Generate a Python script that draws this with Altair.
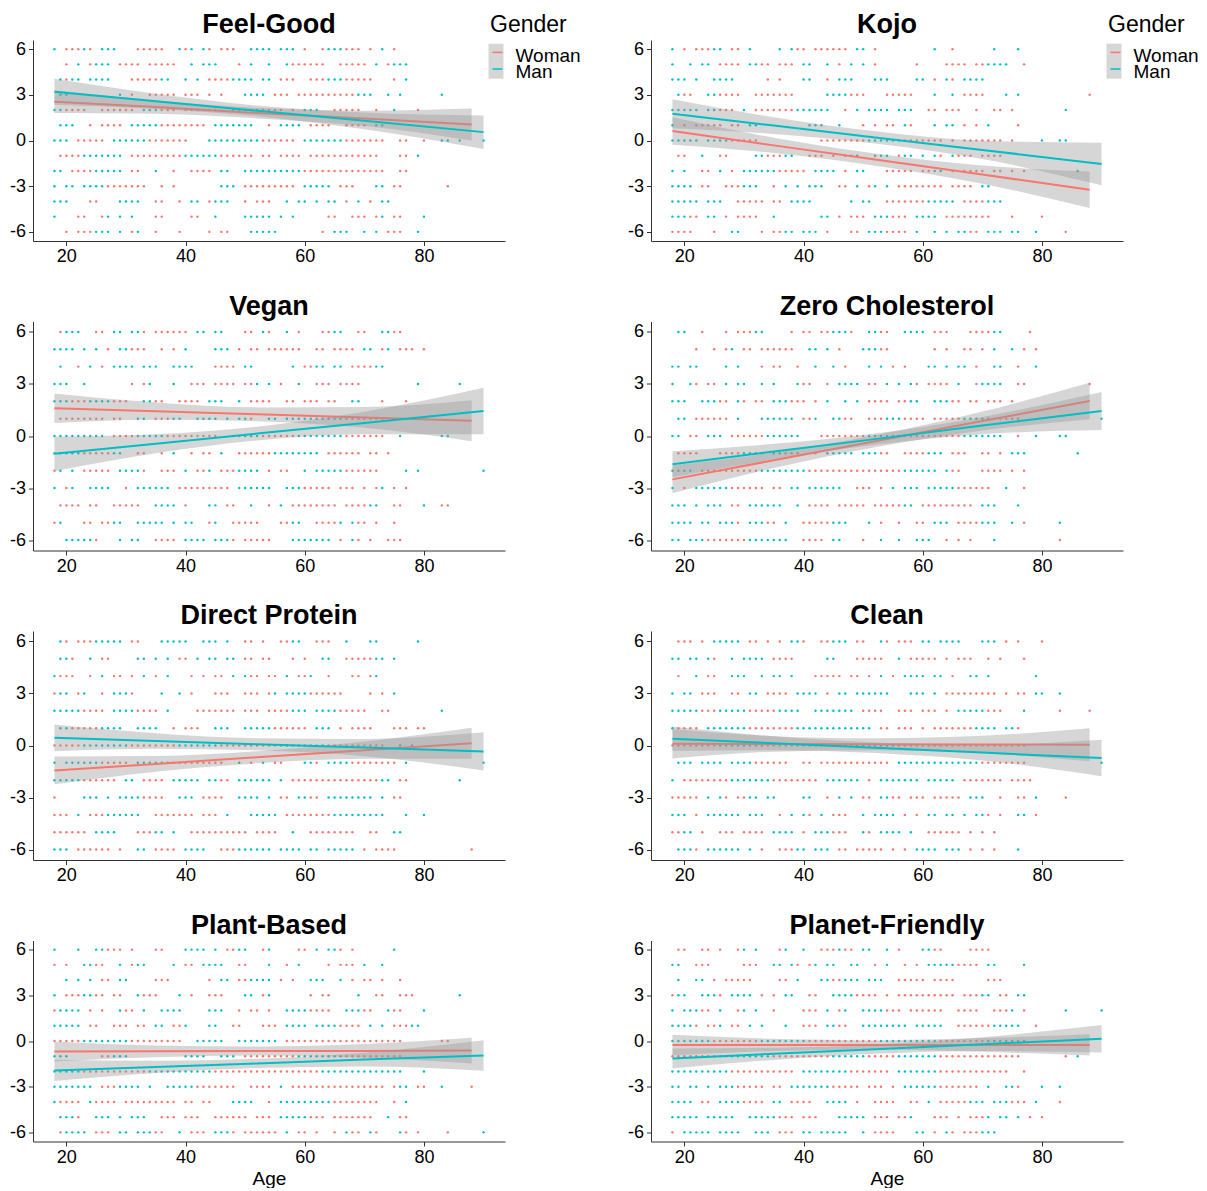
import altair as alt
import pandas as pd

FONT = "Liberation Sans"
COLORS = {"Woman": "#F8766D", "Man": "#00BFC4"}

TITLES = ["Feel-Good", "Kojo", "Vegan", "Zero Cholesterol",
          "Direct Protein", "Clean", "Plant-Based", "Planet-Friendly"]
LEVELS = [6, 5, 4, 3, 2, 1, 0, -1, -2, -3, -4, -5, -6]
X_TICKS = [20, 40, 60, 80]
Y_TICKS = [-6, -3, 0, 3, 6]

# Respondents per answer level (rows: 6 .. -6); "a-bG" = ages a..b, gender w/m
FEEL_GOOD = [
    "18m 20-22w 23m 24w 26-28m 32-36w 39m 40w 41m 43m 44w 46-48w 51-54m 56-58m 60w 63w 64-66m 67-69w 71w 73m 75w",
    "20w 22m 24w 25-27m 29-32w 34-38w 41m 43-45m 49w 51m 54m 57m 58-63w 66-70w 72m 74w 75-77m",
    "19m 20w 21-22m 24-27m 31-35w 36-37m 40m 42m 44-47w 48-51m 53-54m 56-58w 61-63w 64-66m 67-71w 75w 77m",
    "19-20m 29m 31w 34-38w 40-42w 44w 46w 50-53m 55-57w 59-62w 63-68w 69-71m 74m 76m 83m",
    "18-19m 20-23w 26-31w 33-35m 36-38w 40-45w 48-52m 53-56w 58w 60-62m 65-69w 72w 75m 79w",
    "19-21m 24w 26-29w 31-35m 36-43w 45-51m 54w 56-59m 61-64w 67-70w 72-73m",
    "18-20m 22-26w 28-33m 34-40w 44-52m 53-58w 60-66m 67-73w 76-77w 80w 83-84m 86m 90m",
    "19-22w 23-29m 31-39w 40-45m 46-51w 53-54w 56-59w 61-72w 76-77w 79m",
    "18-19m 21-24w 25-29m 31-32w 35m 38w 41-44w 46-47m 50-53m 54-59m 60-66w 67-73w 76-77w",
    "18m 20-21m 23-26m 27-33w 36w 38w 46-48m 50-58w 60-64m 66-68w 72-73m 75-76w 84w",
    "18-20m 24-25w 29-32m 35-36w 39w 41-42m 44w 45-47m 50w 52-54w 57m 59-60m 62m 64-65m 67w 69m 71w 73-74m",
    "18m 22-23w 26w 27m 29m 31m 35-36w 41-42w 45m 50-54m 56m 58m 64-65w 68-70w 72w 73m 75-76w 80m",
    "20w 22-24w 25-27m 29m 31w 32m 35w 39w 44w 46-47w 51-55m 63w 65m 66-67m 70m 72m 74-76w 79m",
]
KOJO = [
    "18m 20w 22-24w 25-26m 28-29w 31m 36m 38m 39-40w 42-47w 49-50m 52w 62m 65w 72m 76m",
    "18m 21m 23-24m 26-29w 31-32m 33-34w 36-38w 40-41m 44m 46w 48m 50m 52w 59w 64-67w 69-70w 71-74m 77w",
    "18-20m 22m 25-28m 34w 36w 40-41m 44w 46-48m 52-54m 59-60m 62w 64m 65w 67-70m",
    "19m 20-21w 24-25m 26-29w 32-38w 44-47m 48-50w 54-58w 62m 65m 67-70w 74m 76m 88w",
    "18-22m 24-25m 26-28w 30m 32-38w 39-44m 47w 49m 51-54m 56-58m 61-62w 64-66w 69w 72-73w 75w 84m",
    "18m 20w 22-26w 28-29w 31-32m 41-43m 46m 50w 52w 54-55w 57m 58w 62m 64-65m 67w 69w 71m 76w",
    "18-22m 24-27m 28-32w 43-50w 51-56m 57-63w 65w 67-73w 75w 80m 83-84m",
    "19-20w 23m 26-27w 32-33m 34-36w 37-38m 41-43w 45w 47-48w 49m 52-54m 56w 57-58m 60m 62m 63w 65m 66-68w 70-73w",
    "18m 20m 23-24w 26m 28w 30-35m 36-40w 42-45m 47w 49-50m 54-58w 60-61w 62-63m 65w 67-70w 72-73w 75w 77w 86m",
    "18-21m 23-24w 27-29w 30-32m 35w 37m 39m 41-43m 46-47w 49m 51w 52m 54m 56-63w 65-68w 70-71m",
    "18-22m 24-26m 29-33w 35-36w 38-41m 48m 50-51m 54-60w 61-65m 67-70w 71-73m",
    "18-20m 21-22w 24-25m 27w 29-32w 35m 43-44m 46w 48-50w 52-54m 55-57w 59-62m 64-71w 75w 80w",
    "18-21w 25w 28-29m 33w 35-36w 37-38m 40-42m 44w 48-49w 51-53m 54-57w 59m 62m 64m 66-67m 68-69w 71-73m 75-76m 79m 84w",
]
VEGAN = [
    "19w 20-22m 25-26w 28-29m 31-32m 33w 35-40w 42-43m 45-46m 50-51w 53m 54w 57m 59w 63-64w 65-66m 69-70w 73-74m 75-76w",
    "18-21m 23m 25m 27w 29-30m 31-33w 36w 38w 40m 45-47m 49w 51-52w 54-59w 62-63w 65-68w 70-71m 73w 74m 76-78w 80w",
    "19m 22w 24m 26w 28-31m 33-35m 38-41m 45-48w 50-51m 58m 60-61w 62-63m 65-66m 68-71w 72-73m",
    "18-20m 23m 31w 33w 34m 38m 41-43w 45-48w 50-51w 52m 54m 56w 59m 62-64w 66-69w 79m 86m",
    "18-20m 21-23w 24-27m 28-30w 33-34m 35-36w 39-42w 44-46m 49m 51-54w 57-58w 60-62w 64-65w 68-69m 73w 77w",
    "19-22w 23-26w 28-29w 32-33m 35-37w 38-39m 42-45m 47m 49-50m 51w 54-55m 57-60m 61-66m 67-73w",
    "18-26m 28-31w 32-36m 37-45w 48-52m 53-58w 59-66m 67-73w 76m 83-84m",
    "18-22m 23-27w 28-29m 32-33w 36w 38m 41w 43-44w 46m 49-54w 55-62m 64-69w 71-72w 74w",
    "18w 19m 21m 23-27w 29-32m 33w 36-38w 40m 42-43w 44m 46-48w 49-52m 54w 56-57w 60m 62-66m 67-72w 77m 79m 90m",
    "18m 20w 21m 24-27m 30w 32-37m 39-47w 49-54m 57-59m 60-64w 66-68w 70w 72w 73m 75w 77w",
    "19-22w 24-25w 28-32w 35-38m 40w 44-45m 47-48w 51m 54w 56m 58-65w 67-70w 71-72m 75-76w 80m 83-84w",
    "18w 19m 23-24w 26-27w 28-29m 32-36m 38m 40-41m 44w 45m 48-52w 56-57w 58-59m 62-65w 66m 68m 69-70w 72w 75w",
    "20-24m 25w 29m 31-32m 35-38w 40-43m 45-47m 48w 50-54w 58-64m 66w 68m 69w 71w 74-76w",
]
ZERO_CHOLESTEROL = [
    "19-20m 23w 27w 29-31w 32-33m 38w 40-41w 43-44w 45-47m 48w 51-52m 53-54w 57-60m 62-64w 68-71w 72-73m 78w",
    "22w 25w 27w 28m 30-31w 33-38w 41-42m 44m 46w 50-52m 53-54w 62w 64w 67-68w 70w 72m 75m 77w 79w",
    "18-19m 21-22m 27m 29m 33w 35-36w 39w 42m 45m 47w 51m 53m 55w 57w 61-62m 64m 66-67m 69w 72-73m 76w 79m",
    "18m 21m 22w 24-25w 27m 29-30m 33m 35m 39m 40-41w 44w 46-49m 51-52w 54m 56m 58m 59w 61-64w 66m 69w 70-73m 76-77w 88w",
    "18-20m 23-25m 26-27w 29m 30w 32-33w 35-37m 38-40w 42w 44m 47m 49m 51-54w 56-57w 58-59m 62-64m 65-66w 68-69w 71-73w 75w",
    "19-20m 22-27w 29m 33-38m 40-41w 42m 45-46m 47-48w 51-53w 54-56m 57-60w 62-66w 67-71m 72-76w 90m",
    "18-19m 21-22w 24-26m 28-33w 34-39m 43-50w 51-56m 57-66w 67-73m 76w 79m 83-84m",
    "19-22w 26-29w 30-33m 35-36m 37-39w 42w 44-48m 50-52m 53-54w 57-60w 61-63m 65-67w 70-71w 73w 75-77m 86m",
    "18-21m 23-26w 27-32w 33-40m 41-49w 50-56w 57-62m 64m 65-66w 70-73w 75w 77w",
    "18m 20w 22-27m 28-33w 35-36w 38-39m 41-46m 49-51w 53w 55m 57-59m 61-65m 66-71w 74m 77w",
    "18-20m 22m 24-26m 28-29w 31-36m 39m 41-44w 46-50w 52-56w 57-58m 60-68w 70-72m 76m",
    "18-21m 23-24m 26-28m 29w 31-33m 34-35w 37m 40-44w 45-47m 51m 53w 56w 59-60w 62-64m 66-69w 70-72m 75m 77w 83m",
    "18-19m 21-23m 24-30w 31-37m 40-43w 45-46m 50w 53m 56m 59-61m 64w 66w 68w 72m 83w",
]
DIRECT_PROTEIN = [
    "19m 20w 22-24w 25-29m 31-32w 36-40m 43-45m 47m 50-51w 53w 56-57w 58-59m 62-64w 67m 71-72m 79m",
    "19-20m 21w 24m 26-27w 32-33m 35m 37m 39-40w 42m 44-45m 47-48m 50-51w 53-54w 58w 60w 63-64m 67-71w 72-73m 75m",
    "18m 19-21w 24w 26m 28-29w 31w 33m 35w 37m 41w 43w 45-46w 48m 50m 51-52w 54-55w 57m 59-60w 61m 64w 68-69w 71w 72m",
    "18w 19-20m 22w 23m 26w 28-30m 31w 36m 39m 41w 45-47w 50-52w 54w 55m 57-60m 61-66w 71w 73w 75m",
    "18-22m 23-26w 28-31m 32-35w 37m 42-48w 50-52w 54-57w 58-60m 62-65m 66-70w 73-74w 83m",
    "19-20m 21-25w 26-29m 32-35m 38w 40-42w 45-47m 50-54m 55-60w 62-64m 66w 68-71w 75-77w 79-80w",
    "18-22w 23-30m 31-38w 39-45m 46-55w 56-63m 64-73w 76m 78m",
    "18m 20-25m 26-30w 32-37m 38-46w 49m 51w 53m 55-56w 60-61m 62w 64-67m 68-75w 77m 90m",
    "18-22m 23-28w 30-31m 33-36w 38-42m 44-45m 46-47w 49-54m 56m 58-66w 67-72w 73-74m 76-77w 86m",
    "18w 23-25m 27m 29-32m 33-36w 39-41m 43-46w 49-52m 54m 56-57w 59-60m 61-62w 64-71m 73m 75-76w",
    "18-20w 22m 24-26w 27-32m 35-41w 43-45w 47m 51-55m 57-64w 65-73m 77m 80m",
    "18-23w 25-28m 32-34w 35-36m 38m 41-50w 52-55w 58m 61-68w 71-72w 75-76m",
    "18-20m 22-27w 29w 32-33m 35-38w 40-43m 46-48w 49-54m 56-59m 61-62m 64-68m 70w 72-75w 88w",
]
CLEAN = [
    "19-21w 23w 25-29m 31-32w 34w 36w 38-39m 40w 43-44w 45-47m 49-50w 53m 54w 56-58w 60-61m 63-66m 70-72m 74w 76w 80w",
    "18-19m 21-22m 24m 25w 28m 30-33m 35-38w 44-45m 49-53w 56m 58-62w 64w 66-68w 71w 73w 77w",
    "19w 22m 24-25w 28-30m 33m 35-36m 38m 42-46w 48-49w 51w 53m 55w 57-60m 62-63m 65w 68-69m 71m 79m",
    "18m 20-21m 23-25w 28-29w 31-32m 34-37w 39-42m 44w 46-47m 49-54m 58-60m 62m 64-72w 74w 76-77w 79-80m 83m",
    "18-22m 23-25w 26-30m 31-35w 36-39m 42-48m 50-53w 56-58w 60-62w 64w 66-70m 71-73w 77m 83w 88w",
    "18m 19-21w 22w 24-30m 31-38w 39-46m 47-51m 53-54w 56-58w 60w 62-68w 69-72m 74-75m 76w",
    "18-25w 26-33m 34-45w 46-55m 56-66w 67-77w",
    "19-21m 23-26m 28-31m 32-37w 40-41w 43-54w 56-62m 63-69m 70-77w 90m",
    "18m 20-27w 28-34m 35-42w 44-49m 51w 53-59m 61-65m 67-73w 75-78w",
    "18-22w 24m 26m 27w 29-30w 31-32m 34-35m 40-41m 44w 46m 48m 50-51w 53-54m 55-56w 58-60w 62-66w 68-70m 73w 76-77w 79m 84w",
    "18-20m 22w 24-29m 31-33m 36w 38m 40m 41w 43m 45-47w 50m 52-55m 57w 59w 61-62m 64-65m 67m 69-70m 71w 73w 76-77m 79w",
    "18-19w 20-21m 23w 26-28w 30-33w 35-38m 40w 42-44m 45-47w 50m 51w 53-56m 58m 61-66w 68w 70w 72w",
    "19-21m 22w 24-29m 31m 33w 36-38w 39-40m 42-44m 46-47w 49-53w 55w 57w 59-62m 64-66m 68w 70w 72w 76m",
]
PLANT_BASED = [
    "18m 22m 25-26m 27-29w 31w 35-36w 40-43m 45m 47-48w 49-50m 53w 54m 59-60w 62m 64-65m 66w 68w 75m",
    "18w 20w 23-24m 25-26w 29m 31w 32-33m 38m 40-41w 43-46m 49-50w 54m 57w 59m 64w 66-68w 70m 73m",
    "20m 22m 24m 26-27w 29-30m 35-37w 44w 46-47m 49-50w 51-54m 56w 58w 61-63m 66m 68w 70-71w 73w 76w",
    "18m 20-22w 23-24m 25-26w 28-29w 32m 33-35w 39m 41w 44-46w 50-51m 53w 54m 61w 63-64w 69m 72-73w 76-78w 86m",
    "18w 19-22m 24w 26w 29m 30-31w 33m 36-39m 44-46m 49w 51-52w 54w 57-60m 61-64w 67-69m 70-71w 74m 75-76w 80m",
    "18-22m 24-25w 28-30w 32-33w 35-36m 38-39w 40m 44-45m 48-49w 53-55w 57-60m 62-65m 66-69w 71m 73m 75-77w 78m 79m",
    "18-22w 23-30m 31-39w 42-46m 49-55m 57-66w 67-76w 83-84w",
    "18-20m 26-27w 28-30m 40-43m 46-48m 50-58w 59-66m 67-76w",
    "18-22m 23-33w 34-44m 45-51w 52-62w 63-70m 71-76m 80m",
    "18-22m 23-24m 26-28w 29-32m 34m 37-41m 42-48w 51-54w 56m 58-66w 67-73w 75w 76-77m 79-80w 83m 88w",
    "18m 19-22w 24m 25-28w 30-38w 40-41w 43-44w 48-51m 54w 56-64m 65-72w 75w 77m",
    "19-21m 22w 25-27m 29m 31-33m 36-38w 40-42w 45-50w 52-54w 56-60m 61-63w 65-71w 74m 76-77w",
    "19w 20-23m 25-27w 29-30m 32-34m 35-36w 39m 41-43w 45-47m 48w 50-55w 57m 59-60w 62w 65w 67m 68-69w 71m 72w 76m 77w 79w 84w 90m",
]
PLANET_FRIENDLY = [
    "19-20w 23-24w 26w 29w 30m 32m 36w 37m 40m 43-45w 46m 47-48w 50-51m 54m 56w 60-61m 62-63w 68-71w",
    "18-19m 22-24w 30-32w 35-36m 38m 39w 41w 42m 44-45m 48-49m 52w 54m 57w 59w 61-65m 66-69w 71-72m 77m",
    "19m 22-23m 25w 27-31w 36-37w 39m 43-44m 45-46w 47-49m 51-53m 56-60w 62-65w 71-73w",
    "18w 19-20m 23-25m 26w 28-31m 33w 35w 37-38m 41-42w 45-48m 49-52w 54w 56-65w 67-69w 70-71m 73-74w 76-77m",
    "18m 20-22m 23-24w 26m 29w 30m 32m 35w 40-42w 44m 46w 47m 50-53m 54-56w 58-63w 66-69w 72-74w 75m 77w 84m 90m",
    "18-21m 22w 24-25w 26m 28-29w 31m 33m 37m 40-42w 44-45m 46-47w 50-57m 59-63m 66-71w 72-76m 79w",
    "18-24m 25-32w 33-40m 41-52w 53-62m 63-70w 71-77m",
    "18-25w 26-34m 35-44w 45-50m 51-55w 56-62m 63-70w 71-76w 84w 86m",
    "18-22m 23-27m 28-38w 40-47m 48-54w 56-62m 63-74w 77w",
    "18-19m 21-22m 24m 26-28m 29-33w 35-36w 38-44m 45-49w 51-53w 55w 57-62m 63-69w 71m 74-75m 76w 80m 83m",
    "18-21m 23-24w 26-29m 30-33w 35-36m 38-41w 44-47m 49w 52-55w 58-59w 61m 63-67w 68-70m 72-74m 75-77w 79m 83w",
    "18-22m 24-28m 31-35m 36-38w 40-42w 46-50m 52-54w 56-57w 58m 62-64w 66w 68-70w 71m 73-74m 76m 78w 80w",
    "18w 20-24m 26-29m 32-34m 36-38w 40-41m 43-47m 50m 52-55w 59-60m 62w 64m 65w 67-69w 70-72m",
]
ROWS = {
    "Feel-Good": FEEL_GOOD, "Kojo": KOJO, "Vegan": VEGAN,
    "Zero Cholesterol": ZERO_CHOLESTEROL, "Direct Protein": DIRECT_PROTEIN,
    "Clean": CLEAN, "Plant-Based": PLANT_BASED, "Planet-Friendly": PLANET_FRIENDLY,
}

# Linear fits (value, CI half-width) read at these ages
FIT_AGES = {"Woman": [18, 35, 52, 70, 88], "Man": [18, 35, 52, 70, 90]}
FITS = {
    "Feel-Good": {"Woman": ([2.55, 2.2, 1.8, 1.45, 1.05], [0.75, 0.45, 0.35, 0.5, 1.05]),
                  "Man": ([3.2, 2.57, 1.95, 1.29, 0.55], [0.85, 0.5, 0.35, 0.55, 1.1])},
    "Kojo": {"Woman": ([0.62, -0.32, -1.25, -2.24, -3.23], [0.9, 0.5, 0.4, 0.6, 1.2]),
             "Man": ([1.76, 0.98, 0.2, -0.62, -1.54], [0.95, 0.55, 0.4, 0.6, 1.4])},
    "Vegan": {"Woman": ([1.6, 1.43, 1.25, 1.07, 0.88], [0.85, 0.5, 0.4, 0.6, 1.18]),
              "Man": ([-1.03, -0.45, 0.14, 0.75, 1.44], [1.0, 0.55, 0.4, 0.65, 1.34])},
    "Zero Cholesterol": {"Woman": ([-2.5, -1.4, -0.3, 0.86, 2.02], [0.8, 0.45, 0.35, 0.55, 1.05]),
                         "Man": ([-1.63, -0.9, -0.18, 0.6, 1.44], [0.75, 0.45, 0.33, 0.5, 1.1])},
    "Direct Protein": {"Woman": ([-1.44, -1.06, -0.68, -0.27, 0.13], [0.8, 0.45, 0.35, 0.5, 0.9]),
                       "Man": ([0.44, 0.26, 0.07, -0.12, -0.34], [0.77, 0.45, 0.35, 0.5, 1.1])},
    "Clean": {"Woman": ([0.1, 0.09, 0.07, 0.06, 0.04], [0.85, 0.45, 0.35, 0.5, 0.95]),
              "Man": ([0.39, 0.13, -0.13, -0.41, -0.72], [0.7, 0.4, 0.3, 0.45, 1.05])},
    "Plant-Based": {"Woman": ([-0.69, -0.68, -0.66, -0.65, -0.63], [0.65, 0.38, 0.3, 0.45, 0.85]),
                    "Man": ([-1.93, -1.7, -1.47, -1.22, -0.95], [0.7, 0.4, 0.3, 0.45, 1.0])},
    "Planet-Friendly": {"Woman": ([-0.26, -0.26, -0.26, -0.26, -0.26], [0.67, 0.4, 0.3, 0.45, 0.7]),
                        "Man": ([-1.15, -0.84, -0.54, -0.21, 0.15], [0.65, 0.4, 0.3, 0.45, 0.9])},
}

GENDER_CODE = {"w": "Woman", "m": "Man"}
PANEL_W = 472
HEIGHTS = [201, 201, 229, 229, 229, 229, 201, 201]


def parse_rows(rows):
    recs = []
    for level, row in zip(LEVELS, rows):
        for tok in row.split():
            g = GENDER_CODE[tok[-1]]
            span = tok[:-1]
            if "-" in span:
                a, b = (int(v) for v in span.split("-"))
            else:
                a = b = int(span)
            for age in range(a, b + 1):
                recs.append({"age": age, "score": level, "gender": g})
    return pd.DataFrame(recs)


X_SCALE = alt.Scale(domain=[14.4, 93.6], nice=False, zero=False)
Y_SCALE = alt.Scale(domain=[-6.6, 6.6], nice=False, zero=False)


def xenc(show_title):
    return alt.X("age:Q", scale=X_SCALE,
                 axis=alt.Axis(values=X_TICKS, title="Age" if show_title else None))


def yenc(field):
    return alt.Y(field + ":Q", scale=Y_SCALE,
                 axis=alt.Axis(values=Y_TICKS, labelExpr="'' + datum.value", title=None))


ONE = pd.DataFrame({"k": [0]})


def title_layer(title):
    return alt.Chart(ONE).mark_text(align="center", baseline="alphabetic", fontSize=27, font=FONT,
                                    fontWeight="bold", color="black").encode(
        x=alt.value(PANEL_W / 2), y=alt.value(-7), text=alt.value(title))


def legend_layers():
    base = alt.Chart(ONE)
    out = [
        base.mark_text(align="left", baseline="alphabetic", fontSize=23, font=FONT, color="black").encode(
            x=alt.value(457), y=alt.value(-7.6), text=alt.value("Gender")),
        base.mark_rect(color="#d6d6d6").encode(
            x=alt.value(455.5), x2=alt.value(470.5), y=alt.value(3.7), y2=alt.value(38.7)),
    ]
    for g, yline, ybase in (("Woman", 12.4, 21.7), ("Man", 29.0, 38.4)):
        out.append(base.mark_rule(color=COLORS[g], strokeWidth=1.5).encode(
            x=alt.value(459.5), x2=alt.value(469.5), y=alt.value(yline)))
        out.append(base.mark_text(align="left", baseline="alphabetic", fontSize=19, font=FONT,
                                  color="black").encode(
            x=alt.value(482.5), y=alt.value(ybase), text=alt.value(g)))
    return out


def panel(title, height, show_age, with_legend):
    pts = parse_rows(ROWS[title])
    layers = [
        alt.Chart(pts).mark_circle(size=6, opacity=1).encode(
            x=xenc(show_age), y=yenc("score"),
            color=alt.Color("gender:N", scale=alt.Scale(domain=["Woman", "Man"],
                                                        range=[COLORS["Woman"], COLORS["Man"]]),
                            legend=None))
    ]
    for g in ["Woman", "Man"]:
        fit, half = FITS[title][g]
        df = pd.DataFrame({"age": FIT_AGES[g], "fit": fit, "half": half})
        df["lo"] = df["fit"] - df["half"]
        df["hi"] = df["fit"] + df["half"]
        layers.append(alt.Chart(df).mark_area(color="#999999", opacity=0.4, interpolate="monotone").encode(
            x=xenc(show_age), y=yenc("lo"), y2="hi:Q"))
        layers.append(alt.Chart(df).mark_line(color=COLORS[g], strokeWidth=2).encode(
            x=xenc(show_age), y=yenc("fit")))
    layers.append(title_layer(title))
    if with_legend:
        layers += legend_layers()
    return alt.layer(*layers).properties(width=PANEL_W, height=height)


panels = []
for i, t in enumerate(TITLES):
    panels.append(panel(t, HEIGHTS[i], show_age=i >= 6, with_legend=i < 2))

chart = alt.concat(*panels, columns=2, spacing={"row": 80.5, "column": 146}, bounds="flush").properties(
    padding={"left": 1, "top": 3, "right": 0, "bottom": 0}
).configure_view(stroke=None).configure_axis(
    grid=False, labelFontSize=18, labelFont=FONT, labelColor="black",
    titleFontSize=19, titleFont=FONT, titleColor="black", titleFontWeight="normal",
    domainColor="#333333", tickColor="#333333", tickSize=4.5, titlePadding=3
).configure_axisX(labelPadding=2).configure_axisY(labelPadding=3)

chart.save("out.html", embed_options={"renderer": "svg", "actions": False})
